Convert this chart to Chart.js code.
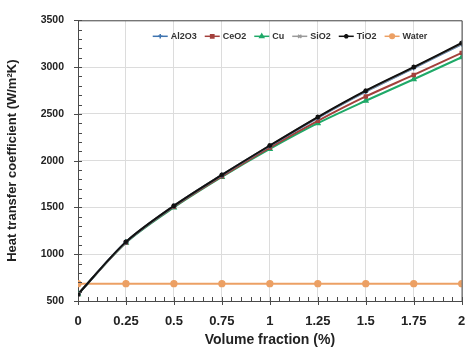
<!DOCTYPE html>
<html>
<head>
<meta charset="utf-8">
<script src="https://cdn.jsdelivr.net/npm/chart.js@4"></script>
<style>
  html, body { margin: 0; padding: 0; background: #fff; }
  #wrap { position: relative; width: 467px; height: 349px; }
</style>
</head>
<body>
<div id="wrap"><canvas id="htc-chart"></canvas></div>
<script>
// Volume fraction (%) and heat transfer coefficient (W/m2K) per fluid
const volumeFractions = [0, 0.25, 0.5, 0.75, 1, 1.25, 1.5, 1.75, 2];
const al2o3 = [572, 1130, 1515, 1845, 2157, 2458, 2738, 2990, 3245];
const ceo2  = [572, 1126, 1507, 1833, 2140, 2425, 2686, 2916, 3152];
const cu    = [572, 1123, 1500, 1826, 2125, 2400, 2640, 2870, 3105];
const sio2  = [572, 1131, 1517, 1847, 2160, 2462, 2743, 2995, 3250];
const tio2  = [572, 1132, 1518, 1848, 2162, 2466, 2748, 3000, 3258];
const water = [685, 685, 685, 685, 685, 685, 685, 685, 685];

const seriesNames = ['Al2O3', 'CeO2', 'Cu', 'SiO2', 'TiO2', 'Water'];
const seriesValues = [al2o3, ceo2, cu, sio2, tio2, water];
const seriesColors = ['#3f74b0', '#a3403c', '#1fa968', '#9a9a9a', '#111111', '#eca064'];
const seriesMarkers = ['cross', 'rect', 'triangle', 'crossRot', 'star', 'circle'];
const markerSizes = [2.5, 2.2, 2.6, 2.5, 2.5, 3];
// black line sits on top, then the others
const drawOrder = [2, 3, 4, 1, 0, 5];

const yTicks = { min: 500, max: 3500, step: 500, minor: 100 };
const xTicks = { min: 0, max: 2, step: 0.25, minor: 0.05 };

const boldFont = 'Liberation Sans, Arial, sans-serif';

function toPoints(values) {
    return values.map((v, i) => ({ x: volumeFractions[i], y: v }));
}

const datasets = seriesNames.map((name, i) => ({
    label: name,
    data: toPoints(seriesValues[i]),
    borderColor: seriesColors[i],
    backgroundColor: seriesColors[i],
    borderWidth: 2,
    pointStyle: seriesMarkers[i],
    pointRadius: markerSizes[i],
    pointBorderWidth: 1.3,
    tension: 0.3,
    order: drawOrder[i]
}));

// frame, axis tick marks (major and minor) and legend row inside the plot
const decorations = {
    id: 'decorations',
    afterDatasetsDraw(chart) {
        const { ctx, chartArea: area, scales: { x, y } } = chart;
        ctx.save();
        ctx.strokeStyle = '#4a4a4a';
        ctx.lineWidth = 1;
        ctx.beginPath();
        ctx.moveTo(area.left, area.top + 0.5);
        ctx.lineTo(area.right + 0.5, area.top + 0.5);
        ctx.lineTo(area.right + 0.5, area.bottom);
        ctx.stroke();

        ctx.beginPath();
        for (let v = yTicks.min; v <= yTicks.max + 1e-6; v += yTicks.minor) {
            const py = Math.round(y.getPixelForValue(v)) + 0.5;
            const major = Math.abs(v % yTicks.step) < 1e-6;
            ctx.moveTo(area.left - (major ? 4 : 0), py);
            ctx.lineTo(area.left + 4, py);
        }
        for (let v = xTicks.min; v <= xTicks.max + 1e-6; v += xTicks.minor) {
            const px = Math.round(x.getPixelForValue(v)) + 0.5;
            const r = v / xTicks.step;
            const major = Math.abs(r - Math.round(r)) < 1e-6;
            ctx.moveTo(px, area.bottom - 4);
            ctx.lineTo(px, area.bottom + (major ? 4 : 0));
        }
        ctx.stroke();

        // legend
        ctx.font = 'bold 9px ' + boldFont;
        ctx.textBaseline = 'middle';
        const sample = 15, gapText = 3, gapItem = 8;
        const widths = chart.data.datasets.map(ds => sample + gapText + ctx.measureText(ds.label).width);
        const total = widths.reduce((a, b) => a + b, 0) + gapItem * (widths.length - 1);
        let lx = 290 - total / 2;
        const ly = area.top + 16;
        chart.data.datasets.forEach((ds, i) => {
            ctx.strokeStyle = ds.borderColor;
            ctx.lineWidth = 1.5;
            ctx.beginPath();
            ctx.moveTo(lx, ly);
            ctx.lineTo(lx + sample, ly);
            ctx.stroke();
            ctx.fillStyle = ds.backgroundColor;
            Chart.helpers.drawPoint(ctx, {
                pointStyle: ds.pointStyle, radius: 2.3, rotation: 0, borderWidth: 1.2
            }, lx + sample / 2, ly);
            ctx.fillStyle = '#333';
            ctx.fillText(ds.label, lx + sample + gapText, ly + 0.5);
            lx += widths[i] + gapItem;
        });
        ctx.restore();
    }
};

new Chart(document.getElementById('htc-chart'), {
    type: 'line',
    data: { datasets },
    options: {
        responsive: true,
        maintainAspectRatio: false,
        animation: false,
        layout: { padding: { top: 15, right: 5, left: 0, bottom: 0 } },
        plugins: {
            legend: { display: false },
            tooltip: { enabled: false }
        },
        scales: {
            x: {
                type: 'linear',
                min: xTicks.min,
                max: xTicks.max,
                afterFit: scale => { scale.height = 48; scale.paddingRight = 0; scale.paddingLeft = 0; },
                grid: { color: '#dcdcdc', drawTicks: false },
                border: { color: '#4a4a4a', width: 1 },
                ticks: {
                    stepSize: xTicks.step,
                    padding: 13,
                    color: '#222',
                    font: { family: boldFont, size: 13, weight: 'bold' },
                    callback: v => String(v)
                },
                title: {
                    display: true,
                    text: 'Volume fraction (%)',
                    color: '#222',
                    padding: { top: 0, bottom: 0 },
                    font: { family: boldFont, size: 14, weight: 'bold' }
                }
            },
            y: {
                min: yTicks.min,
                max: yTicks.max,
                afterFit: scale => { scale.width = 78; },
                grid: { color: '#dcdcdc', drawTicks: false },
                border: { color: '#4a4a4a', width: 1 },
                ticks: {
                    stepSize: yTicks.step,
                    padding: 14,
                    color: '#222',
                    font: { family: boldFont, size: 10.5, weight: 'bold' },
                    callback: v => String(v)
                },
                title: {
                    display: true,
                    text: 'Heat transfer coefficient (W/m²K)',
                    color: '#222',
                    padding: { top: 5, bottom: 0 },
                    font: { family: boldFont, size: 13, weight: 'bold' }
                }
            }
        }
    },
    plugins: [decorations]
});
</script>
</body>
</html>
